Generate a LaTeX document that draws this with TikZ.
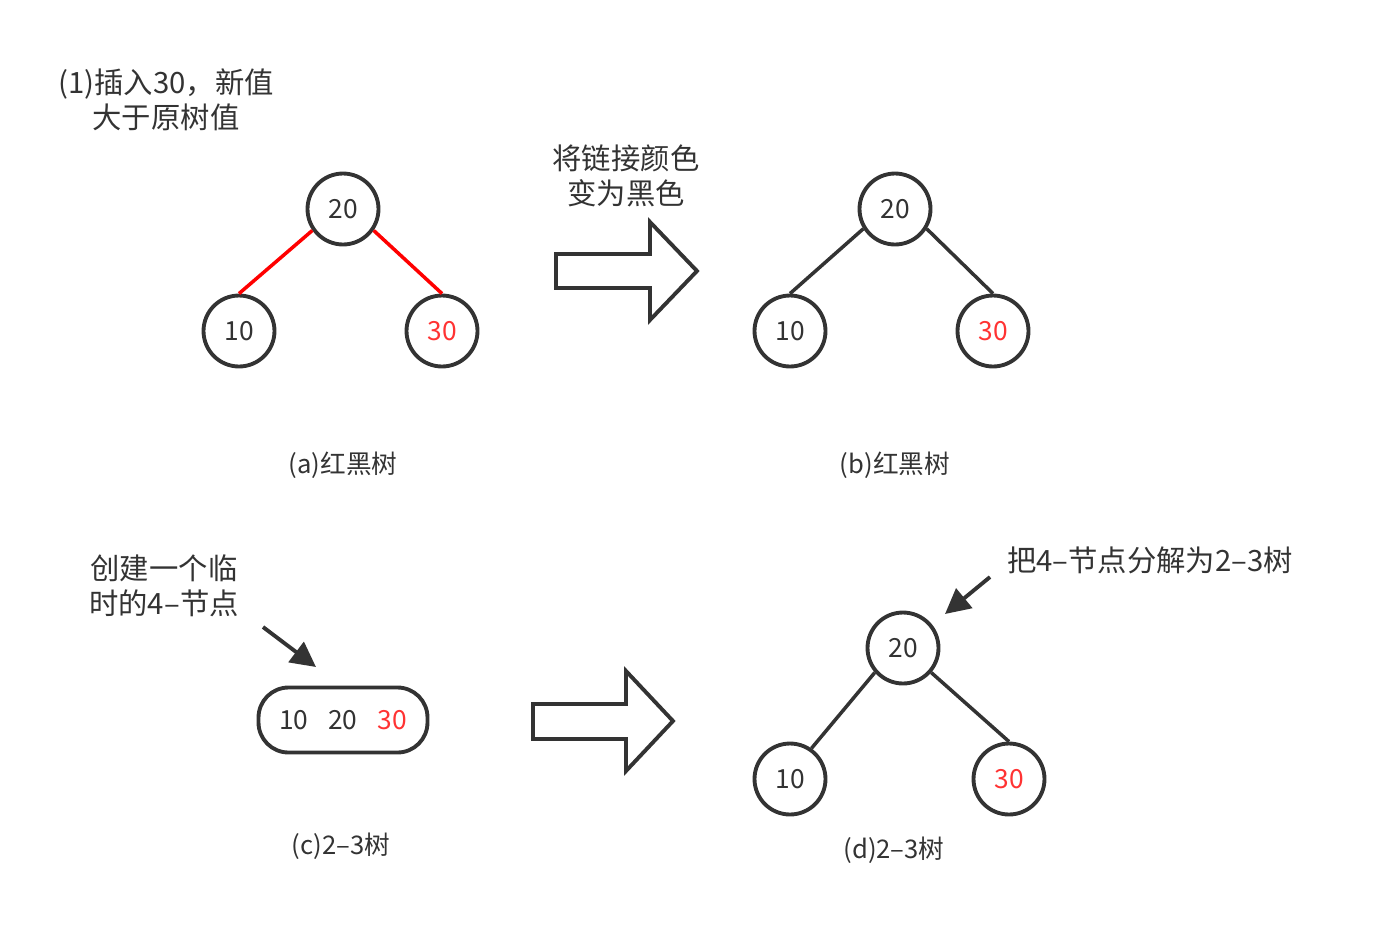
\documentclass[tikz,border=0pt]{standalone}
\usepackage{fontspec}
\setmainfont{Noto Sans CJK SC}
\usetikzlibrary{arrows.meta,positioning}
\definecolor{ink}{HTML}{333333}
\definecolor{hot}{HTML}{FF3333}
\tikzset{
treenode/.style={draw=ink,circle,line width=2.2pt,minimum size=1.42cm,inner sep=0pt,text=ink,font=\fontsize{15}{16}\selectfont},
fournode/.style={draw=ink,rounded corners=.6cm,line width=2.2pt,minimum width=3.38cm,minimum height=1.3cm,inner sep=0pt,text=ink,font=\fontsize{15}{16}\selectfont},
rededge/.style={red,line width=2pt},
blackedge/.style={ink,line width=2pt},
note/.style={align=center,text=ink,font=\fontsize{16.7}{19.8}\selectfont},
caption/.style={text=ink,font=\fontsize{14.6}{16}\selectfont},
pointer/.style={-{Triangle[length=.5cm,width=.5cm]},ink,line width=2.2pt},
bigarrow/.style={draw=ink,line width=2.2pt,line join=miter,fill=white}
}
\begin{document}
\begin{tikzpicture}[x=0.02cm,y=-0.02cm]
\useasboundingbox (0,0) rectangle (1379,937);
% (a) red-black tree
\node[note](title) at (166,100){(1)插入30，新值\\大于原树值};
\node[treenode](a20) at (343,209){20};
\node[treenode](a10) at (239,331){10};
\node[treenode](a30) at (442,331){\textcolor{hot}{30}};
\draw[rededge](a20.215)--(a10.north);\draw[rededge](a20.325)--(a30.north);
\node[caption](capa) at (343,465){(a)红黑树};
% recolour step
\node[note](recolor) at (626,176){将链接颜色\\变为黑色};
\draw[bigarrow](556,254)--(650,254)--(650,222)--(697,271)--(650,320)--(650,288)--(556,288)--cycle;
% (b) red-black tree
\node[treenode](b20) at (895,209){20};
\node[treenode](b10) at (790,331){10};
\node[treenode](b30) at (993,331){\textcolor{hot}{30}};
\draw[blackedge](b20.212)--(b10.north);\draw[blackedge](b20.328)--(b30.north);
\node[caption](capb) at (895,465){(b)红黑树};
% (c) temporary 4-node
\node[note](tmpnote) at (164,586){创建一个临\\时的4–节点};
\node[fournode](four) at (343,720){10\hspace{.4cm}20\hspace{.4cm}\textcolor{hot}{30}};
\coordinate(ctail) at (263,627);\coordinate(chead) at (316,667);
\draw[pointer](ctail)--(chead);
\node[caption](capc) at (341,846){(c)2–3树};
\draw[bigarrow](533,704)--(626,704)--(626,671)--(673,721)--(626,771)--(626,739)--(533,739)--cycle;
% (d) 2-3 tree
\node[treenode](d20) at (903,648){20};
\node[treenode](d10) at (790,779){10};
\node[treenode](d30) at (1009,779){\textcolor{hot}{30}};
\draw[blackedge](d20.221)--(d10.55);\draw[blackedge](d20.319)--(d30.north);
\node[note](splitnote) at (1150,560){把4–节点分解为2–3树};
\coordinate(dtail) at (990,577);\coordinate(dhead) at (945,614);
\draw[pointer](dtail)--(dhead);
\node[caption](capd) at (894,850){(d)2–3树};
\end{tikzpicture}
\end{document}
